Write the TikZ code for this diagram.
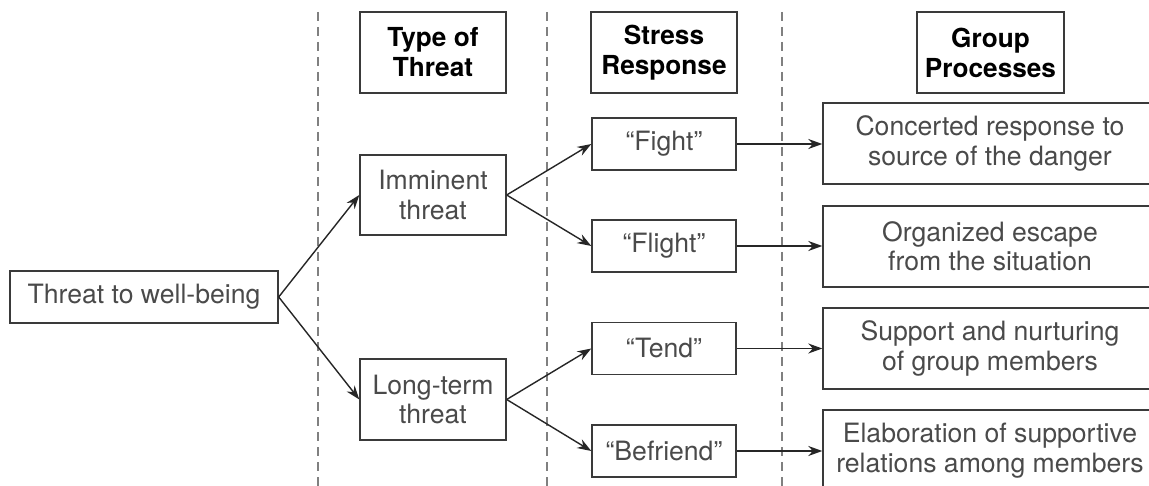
\documentclass[tikz,border=0pt]{standalone}
\usepackage{fontspec}
\setmainfont{TeX Gyre Heros}
\usetikzlibrary{arrows.meta}
\definecolor{txtgray}{HTML}{4A4A4A}
\definecolor{boxgray}{HTML}{3A3A3A}
\definecolor{dashgray}{HTML}{808080}
\begin{document}
\begin{tikzpicture}[x=1pt,y=-1pt,
  box/.style={draw=boxgray,line width=1.4pt,inner sep=0pt,align=center,
    text=txtgray,font=\fontsize{26.6}{29.5}\selectfont},
  headbox/.style={box,text=black,font=\fontsize{26.2}{30}\selectfont\bfseries},
  arr/.style={draw=black!85,line width=1.4pt,-{Stealth[length=14pt,width=10pt]}},
  divider/.style={draw=dashgray,line width=1.2pt,dash pattern=on 9pt off 6pt}]
\useasboundingbox (0,0) rectangle (1149,486);
\clip (0,0) rectangle (1149,486);
\fill[white] (0,0) rectangle (1149,486);
% dividers
\coordinate (d1t) at (318,12); \coordinate (d1b) at (318,486);
\coordinate (d2t) at (547,12); \coordinate (d2b) at (547,486);
\coordinate (d3t) at (782,12); \coordinate (d3b) at (782,486);
\draw[divider] (d1t) -- (d1b);
\draw[divider] (d2t) -- (d2b);
\draw[divider] (d3t) -- (d3b);
% headers
\node[headbox,minimum width=146pt,minimum height=81pt] (h1) at (433,52.5) {Type of\\Threat};
\node[headbox,minimum width=146pt,minimum height=81pt] (h2) at (664,52.5) {Stress\\Response};
\node[headbox,minimum width=147pt,minimum height=81pt] (h3) at (990.5,52.5) {Group\\Processes};
% first column
\node[box,minimum width=268pt,minimum height=52pt] (threat) at (144,297) {Threat to well-being};
% type of threat
\node[box,minimum width=146pt,minimum height=80pt] (imm) at (433,195) {Imminent\\threat};
\node[box,minimum width=146pt,minimum height=81pt] (long) at (433,399.5) {Long-term\\threat};
% stress responses
\node[box,minimum width=144pt,minimum height=52pt] (fight) at (664,144) {“Fight”};
\node[box,minimum width=144pt,minimum height=52pt] (flight) at (664,246) {“Flight”};
\node[box,minimum width=144pt,minimum height=52pt] (tend) at (664,348.5) {“Tend”};
\node[box,minimum width=144pt,minimum height=52pt] (befriend) at (664,451) {“Befriend”};
% group processes
\node[box,minimum width=334pt,minimum height=81pt] (p1) at (990,143.5) {Concerted response to\\source of the danger};
\node[box,minimum width=334pt,minimum height=81pt] (p2) at (990,246.5) {Organized escape\\from the situation};
\node[box,minimum width=334pt,minimum height=81pt] (p3) at (990,348.5) {Support and nurturing\\of group members};
\node[box,minimum width=334pt,minimum height=81pt] (p4) at (990,450.5) {Elaboration of supportive\\relations among members};
% connectors
\draw[arr] (threat.east) -- (imm.west);
\draw[arr] (threat.east) -- (long.west);
\draw[arr] (imm.east) -- (fight.west);
\draw[arr] (imm.east) -- (flight.west);
\draw[arr] (long.east) -- (tend.west);
\draw[arr] (long.east) -- (befriend.west);
\draw[arr] (fight.east) -- (p1.west |- fight.east);
\draw[arr] (flight.east) -- (p2.west |- flight.east);
\draw[arr] (tend.east) -- (p3.west |- tend.east);
\draw[arr] (befriend.east) -- (p4.west |- befriend.east);
\end{tikzpicture}
\end{document}
